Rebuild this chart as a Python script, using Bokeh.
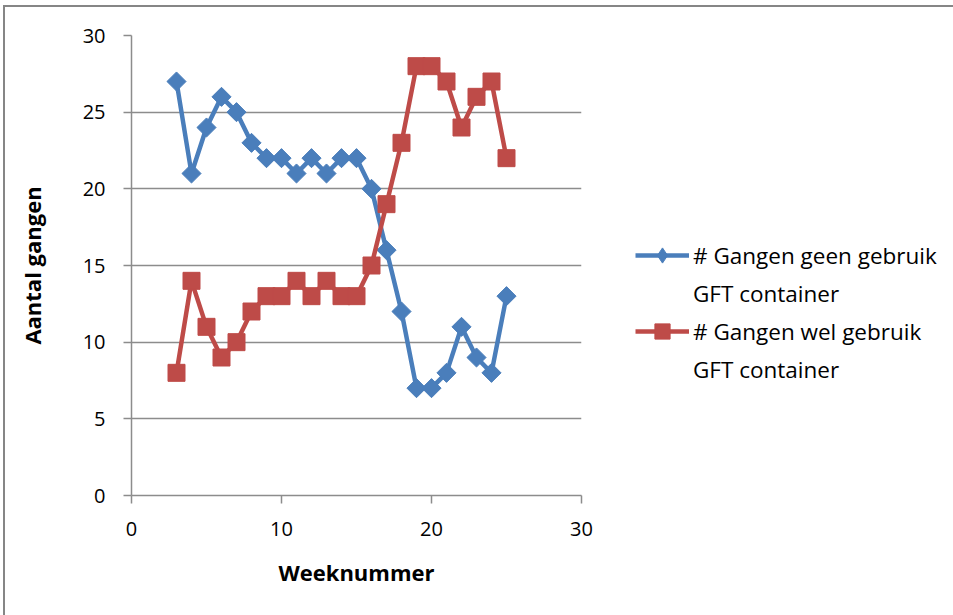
import numpy as np
from bokeh.plotting import figure
from bokeh.models import Range1d, FixedTicker, Legend, LegendItem
from bokeh.embed import file_html
from bokeh.resources import INLINE

weeks = [3, 4, 5, 6, 7, 8, 9, 10, 11, 12, 13, 14, 15, 16, 17, 18, 19, 20, 21, 22, 23, 24, 25]
geen = [27, 21, 24, 26, 25, 23, 22, 22, 21, 22, 21, 22, 22, 20, 16, 12, 7, 7, 8, 11, 9, 8, 13]
wel = [8, 14, 11, 9, 10, 12, 13, 13, 14, 13, 14, 13, 13, 15, 19, 23, 28, 28, 27, 24, 26, 27, 22]
series_names = ["# Gangen geen gebruik", "# Gangen wel gebruik"]
series_second_line = "GFT container"
x_ticks = [0, 10, 20, 30]
y_ticks = [0, 5, 10, 15, 20, 25, 30]

BLUE = "#4A7EBB"
RED = "#BE4B48"
GRID = "#8C8C8C"
FONT = "Open Sans"

p = figure(frame_width=450, frame_height=460, x_range=Range1d(0, 30), y_range=Range1d(0, 30),
           output_backend="svg", toolbar_location=None,
           min_border_left=126, min_border_right=0, min_border_top=28, min_border_bottom=120)
p.styles = {"border-left": "2px solid #868686", "border-top": "2px solid #868686",
            "margin-left": "3px", "margin-top": "5px"}
p.outline_line_color = None
p.xgrid.grid_line_color = None
p.ygrid.grid_line_color = GRID
p.ygrid.grid_line_width = 1.5
p.ygrid.ticker = FixedTicker(ticks=y_ticks)

for ax in (p.xaxis[0], p.yaxis[0]):
    ax.axis_line_color = GRID
    ax.axis_line_width = 1.5
    ax.major_tick_line_color = GRID
    ax.major_tick_line_width = 1.5
    ax.major_tick_in = 0
    ax.major_tick_out = 8
    ax.minor_tick_line_color = None
    ax.major_label_text_font = FONT
    ax.major_label_text_font_size = "20px"
    ax.major_label_text_color = "#000000"
    ax.axis_label_text_font = FONT
    ax.axis_label_text_font_size = "22px"
    ax.axis_label_text_font_style = "bold"
    ax.axis_label_text_color = "#000000"

p.xaxis.ticker = FixedTicker(ticks=x_ticks)
p.yaxis.ticker = FixedTicker(ticks=y_ticks)
p.xaxis.axis_label = "Weeknummer"
p.yaxis.axis_label = "Aantal gangen"
p.xaxis.major_label_standoff = 18
p.yaxis.major_label_standoff = 18
p.xaxis.axis_label_standoff = 18
p.yaxis.axis_label_standoff = 33

l1 = p.line(weeks, geen, line_color=BLUE, line_width=4.5)
p.scatter(weeks, geen, marker="square", angle=np.pi / 4, size=13.5,
          fill_color=BLUE, line_color=BLUE)
l2 = p.line(weeks, wel, line_color=RED, line_width=4.5)
m2 = p.scatter(weeks, wel, marker="square", size=17, fill_color=RED, line_color=RED)
# hidden renderer used only for the diamond legend key of series 1
key1 = p.scatter(weeks, geen, marker="diamond", size=17, fill_color=BLUE, line_color=BLUE,
                 visible=False)
blank = p.line(x=[], y=[], line_alpha=0)

legend = Legend(items=[LegendItem(label=series_names[0], renderers=[l1, key1]),
                       LegendItem(label=series_second_line, renderers=[blank]),
                       LegendItem(label=series_names[1], renderers=[l2, m2]),
                       LegendItem(label=series_second_line, renderers=[blank])],
                location=(54, 107), orientation="vertical",
                glyph_width=54, glyph_height=38, label_height=38, spacing=0,
                label_standoff=4, padding=0, margin=0,
                inactive_fill_alpha=0,
                border_line_color=None, background_fill_alpha=0,
                label_text_font=FONT, label_text_font_size="22.5px", label_text_color="#000000")
p.add_layout(legend, "right")

open("out.html", "w").write(file_html(p, INLINE))
